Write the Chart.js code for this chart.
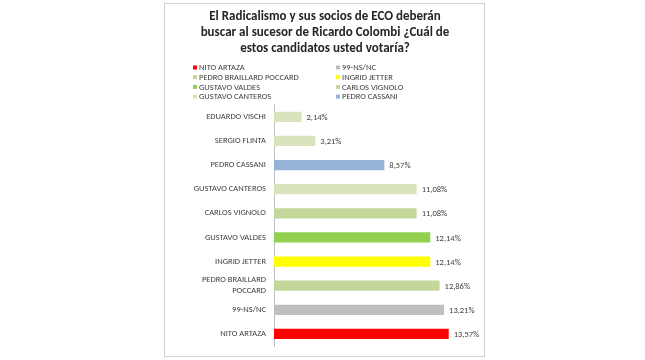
<!DOCTYPE html>
<html>
<head>
<meta charset="utf-8">
<script src="https://cdn.jsdelivr.net/npm/chart.js@4.4.1/dist/chart.umd.min.js"></script>
<style>
  html, body { margin: 0; padding: 0; background: #fff; }
  #wrap { position: relative; width: 645px; height: 360px; }
</style>
</head>
<body>
<div id="wrap"><canvas id="myChart" width="645" height="360"></canvas></div>
<script>
// Data (top to bottom as shown)
const categories = [
    'EDUARDO VISCHI',
    'SERGIO FLINTA',
    'PEDRO CASSANI',
    'GUSTAVO CANTEROS',
    'CARLOS VIGNOLO',
    'GUSTAVO VALDES',
    'INGRID JETTER',
    'PEDRO BRAILLARD POCCARD',
    '99-NS/NC',
    'NITO ARTAZA'
];
const votes = [2.14, 3.21, 8.57, 11.08, 11.08, 12.14, 12.14, 12.86, 13.21, 13.57];
const barColors = [
    '#D8E4BC', '#D8E4BC', '#95B3D7', '#D8E4BC', '#C4D79B',
    '#92D050', '#FFFF00', '#C4D79B', '#BFBFBF', '#FF0000'
];
// legend shows the first 8 entries from the bottom, two per row
const legendNames = categories.slice().reverse().slice(0, 8);
const legendColors = barColors.slice().reverse().slice(0, 8);

const FONT = "Carlito, 'Liberation Sans', sans-serif";
const TEXT_COLOR = '#404040';

const fmt = v => v.toFixed(2).replace('.', ',') + '%';

// Split long category labels into two lines like the original
const axisLabels = categories.map(c => c === 'PEDRO BRAILLARD POCCARD' ? ['PEDRO BRAILLARD', 'POCCARD'] : c);

const framePlugin = {
    id: 'frame',
    beforeDraw(chart) {
        const ctx = chart.ctx;
        ctx.save();
        ctx.fillStyle = '#fff';
        ctx.fillRect(0, 0, chart.width, chart.height);
        ctx.strokeStyle = '#D0D0D0';
        ctx.lineWidth = 1;
        ctx.strokeRect(164.5, 3.5, 320, 353);
        ctx.restore();
    }
};

const legendPlugin = {
    id: 'gridLegend',
    afterDraw(chart) {
        const ctx = chart.ctx;
        ctx.save();
        ctx.font = '8.5px ' + FONT;
        ctx.textBaseline = 'middle';
        ctx.textAlign = 'left';
        legendNames.forEach((name, i) => {
            const col = i % 2;
            const row = Math.floor(i / 2);
            const x = col === 0 ? 193 : 336;
            const y = 67.5 + row * 9.7;
            ctx.fillStyle = legendColors[i];
            ctx.fillRect(x, y - 2, 4, 4);
            ctx.fillStyle = TEXT_COLOR;
            ctx.fillText(name, x + 6, y + 0.5);
        });
        ctx.restore();
    }
};

const valueLabels = {
    id: 'valueLabels',
    afterDatasetsDraw(chart) {
        const ctx = chart.ctx;
        const meta = chart.getDatasetMeta(0);
        ctx.save();
        ctx.font = '8.5px ' + FONT;
        ctx.fillStyle = TEXT_COLOR;
        ctx.textBaseline = 'middle';
        ctx.textAlign = 'left';
        meta.data.forEach((bar, i) => {
            ctx.fillText(fmt(votes[i]), bar.x + 5, bar.y + 1);
        });
        ctx.restore();
    }
};

const ctx = document.getElementById('myChart').getContext('2d');
const myChart = new Chart(ctx, {
    type: 'bar',
    data: {
        labels: axisLabels,
        datasets: [{
            label: 'Intención de voto',
            data: votes,
            backgroundColor: barColors,
            borderWidth: 0,
            barPercentage: 0.42,
            categoryPercentage: 1
        }]
    },
    options: {
        indexAxis: 'y',
        responsive: false,
        animation: false,
        layout: {
            padding: { left: 170, right: 165, top: 0, bottom: 14 }
        },
        scales: {
            x: {
                min: 0,
                max: 16,
                display: false
            },
            y: {
                afterFit(scale) { scale.width = 104; },
                grid: { display: false, drawTicks: false },
                border: { display: true, color: '#BFBFBF', width: 1 },
                ticks: {
                    padding: 8,
                    color: TEXT_COLOR,
                    font: { family: FONT, size: 8.5, lineHeight: 1.3 },
                    autoSkip: false
                }
            }
        },
        plugins: {
            legend: { display: false },
            tooltip: { enabled: false },
            title: {
                display: true,
                text: [
                    'El Radicalismo y sus socios de ECO deberán',
                    'buscar al sucesor de Ricardo Colombi ¿Cuál de',
                    'estos candidatos usted votaría?'
                ],
                color: '#262626',
                font: { family: FONT, size: 13, weight: 'bold', lineHeight: 1.25 },
                padding: { top: 8.5, bottom: 47.5 }
            }
        }
    },
    plugins: [framePlugin, legendPlugin, valueLabels]
});
</script>
</body>
</html>
